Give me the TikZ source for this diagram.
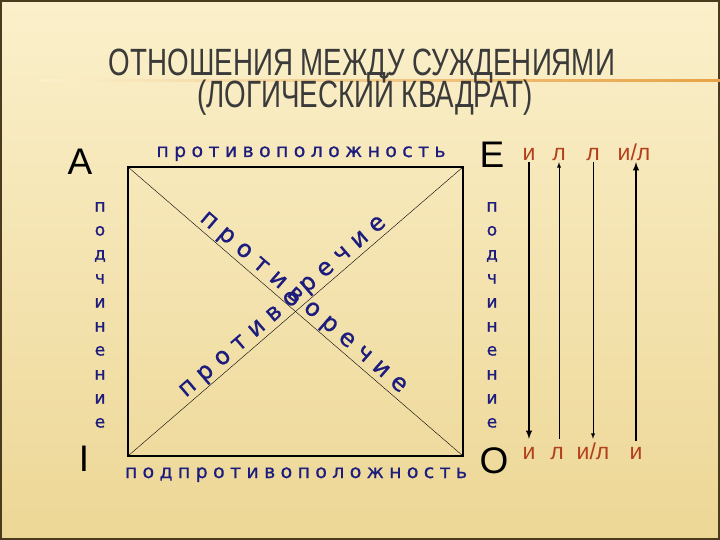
\documentclass[tikz,border=0pt]{standalone}
\usepackage{fontspec}
\setmainfont{Liberation Sans}
\newfontfamily\titlefont[FakeStretch=0.73]{Liberation Sans}
\newfontfamily\wordfont[LetterSpace=28,FakeBold=0.7]{DejaVu Sans}
\newfontfamily\diagfont[LetterSpace=33,FakeBold=0.7]{DejaVu Sans}
\newfontfamily\stackfont[FakeBold=0.7]{DejaVu Sans}
\usetikzlibrary{positioning}

\definecolor{paper}{HTML}{FBF0CB}
\definecolor{paperlow}{HTML}{EDD796}
\definecolor{rim}{HTML}{4B3B1E}
\definecolor{ink}{HTML}{1C1C7E}
\definecolor{brick}{HTML}{B3401C}
\definecolor{rule}{HTML}{E7A244}
\definecolor{titlegray}{HTML}{3A3A3A}

\begin{document}
\begin{tikzpicture}[x=1pt,y=-1pt,
    corner/.style={font=\fontsize{37}{37}\selectfont, inner sep=0pt},
    relword/.style={text=ink, font=\wordfont\fontsize{19}{19}\selectfont, inner sep=1pt},
    diagword/.style={text=ink, font=\diagfont\fontsize{24}{24}\selectfont, inner sep=1pt, sloped, above},
    stackword/.style={text=ink, font=\stackfont\fontsize{17}{24}\selectfont, align=center, inner sep=0pt},
    truth/.style={text=brick, font=\fontsize{23}{23}\selectfont, inner sep=1pt, text height=12pt, text depth=0pt, anchor=base},
    thickarrow/.style={-latex, line width=1.8pt},
    thinarrow/.style={-latex, line width=0.9pt}]

  % background
  \useasboundingbox (0,0) rectangle (720,540);
  \shade[top color=paper, bottom color=paperlow] (0,0) rectangle (720,540);
  \draw[rim, line width=2pt] (1,1) rectangle (719,539);
  \shade[left color=paper, right color=rule] (40,80) rectangle (720,81.5);

  % title
  \node[titlegray, font=\titlefont\fontsize{38}{38}\selectfont, anchor=base] (title1) at (362,76) {ОТНОШЕНИЯ МЕЖДУ СУЖДЕНИЯМИ};
  \node[titlegray, font=\titlefont\fontsize{38}{38}\selectfont, anchor=base] (title2) at (365,108) {(ЛОГИЧЕСКИЙ КВАДРАТ)};

  % square
  \coordinate (tl) at (128,167);
  \coordinate (tr) at (463,167);
  \coordinate (bl) at (128,456);
  \coordinate (br) at (463,456);
  \draw[line width=2.2pt] (tl) rectangle (br);
  \draw (tl) -- node[diagword, pos=0.5] (contra1) {противоречие} (br);
  \draw (bl) -- node[diagword, pos=0.485] (contra2) {противоречие} (tr);

  % corners
  \node[corner] (A) at (80,162) {А};
  \node[corner] (E) at (492,155) {Е};
  \node[corner] (I) at (84,459) {I};
  \node[corner] (O) at (494,461) {О};

  % relations
  \node[relword, anchor=base] (contrary) at (301,157) {противоположность};
  \node[relword, anchor=base] (subcontrary) at (296,478) {подпротивоположность};
  \node[stackword] (subL) at (100,315) {п\\о\\д\\ч\\и\\н\\е\\н\\и\\е};
  \node[stackword] (subR) at (492,315) {п\\о\\д\\ч\\и\\н\\е\\н\\и\\е};

  % truth values
  \node[truth] (t1) at (529,161) {и};
  \node[truth] (t2) at (559,161) {л};
  \node[truth] (t3) at (593,161) {л};
  \node[truth] (t4) at (634,161) {и/л};
  \node[truth] (b1) at (529,459) {и};
  \node[truth] (b2) at (557,459) {л};
  \node[truth] (b3) at (593,459) {и/л};
  \node[truth] (b4) at (636,459) {и};

  \draw[thickarrow, shorten >=7pt] (t1.south) -- (t1.south |- b1.north);
  \draw[thinarrow, shorten <=7pt] (t2.south |- b2.north) -- (t2.south);
  \draw[thinarrow, shorten >=7pt] (t3.south) -- (t3.south |- b3.north);
  \draw[thickarrow, shorten <=5pt] (b4.north) -- (b4.north |- t4.south);
\end{tikzpicture}
\end{document}
